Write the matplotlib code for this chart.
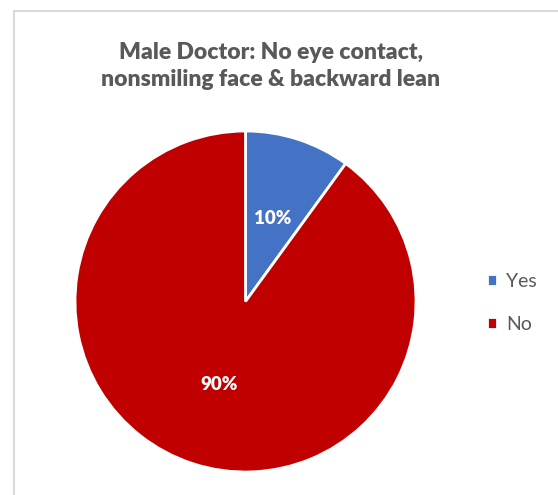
import matplotlib
matplotlib.use("Agg")
from matplotlib import pyplot as plt
from matplotlib.patches import Rectangle

labels = ["Yes", "No"]
values = [10, 90]
colors = ["#4472C4", "#C00000"]
title = "Male Doctor: No eye contact,\nnonsmiling face & backward lean"

plt.rcParams['font.family'] = ['Lato', 'DejaVu Sans']

W, H = 558, 495
fig = plt.figure(figsize=(W / 100, H / 100), dpi=100)

# chart border (cropped at right and bottom)
fig.patches.append(Rectangle((14 / W, -0.1), 1.2, (H - 11) / H + 0.1,
                             transform=fig.transFigure, fill=False,
                             edgecolor="#D9D9D9", linewidth=1.5))

ax = fig.add_axes([75 / W, 23 / H, 341 / W, 341 / H])
wedges, texts, autotexts = ax.pie(
    values, colors=colors, startangle=90, counterclock=False,
    autopct="%1.0f%%", pctdistance=0.51,
    wedgeprops=dict(edgecolor="white", linewidth=2),
    textprops=dict(color="white", fontsize=13.5, fontweight="heavy"))
ax.set_aspect("equal")
ax.set_xlim(-1, 1)
ax.set_ylim(-1, 1)

fig.text(271 / W, 1 - 66 / H, title, ha="center", va="center",
         fontsize=16.5, fontweight="heavy", color="#595959", linespacing=1.4)

fig.legend(wedges, labels, loc="center left", bbox_to_anchor=(469 / W, 1 - 303 / H),
           frameon=False, fontsize=14, handlelength=0.55, handleheight=0.55,
           labelspacing=1.35, handletextpad=0.45, labelcolor="#595959")

fig.savefig("out.png", dpi=100)
